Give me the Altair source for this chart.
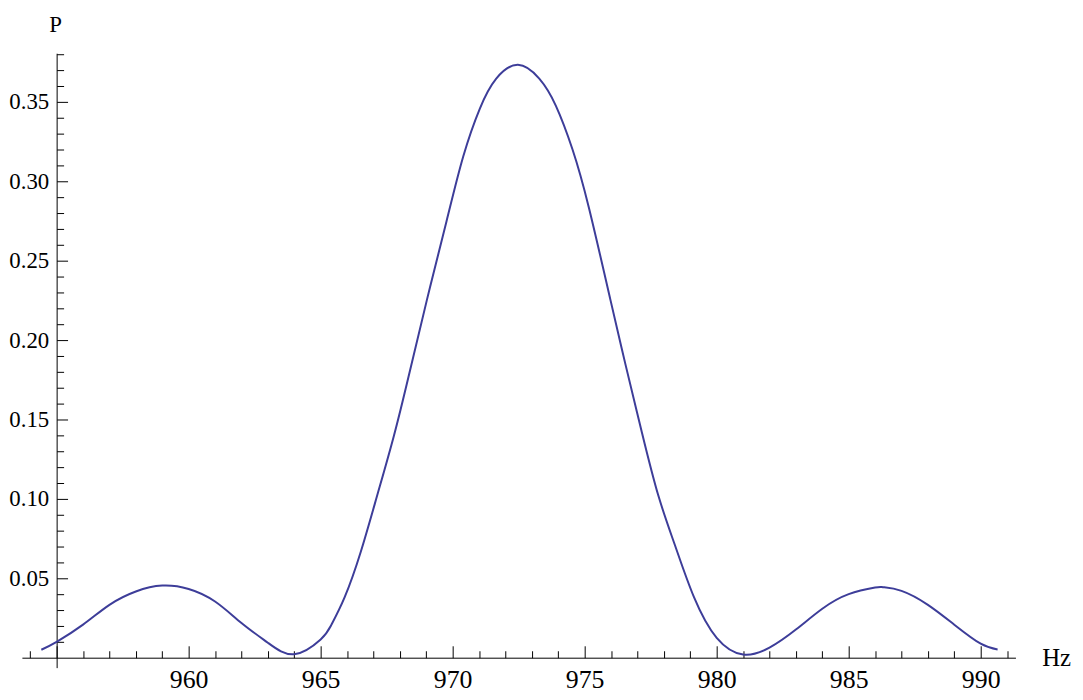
import altair as alt
import pandas as pd

# Frequency (Hz) and probability P
freq = [954.42, 955.0, 956.0, 957.0, 958.0, 959.0, 960.0, 961.0, 962.0, 963.0,
        964.0, 965.0, 965.4, 965.91, 966.52, 967.14, 967.77, 968.33, 969.02,
        969.77, 970.40, 971.03, 971.65, 972.47, 973.28, 973.91, 974.54, 975.16,
        975.98, 976.54, 977.17, 977.79, 978.42, 979.14, 980.0, 981.0, 982.0, 983.0,
        984.0, 985.0, 986.0, 986.3, 987.0, 988.0, 989.0, 990.0, 990.64]
prob = [0.0050, 0.0100, 0.0208, 0.0333, 0.0417, 0.0454, 0.0433, 0.0354, 0.0219, 0.0094,
        0.0022, 0.0115, 0.0205, 0.0381, 0.0667, 0.1021, 0.1395, 0.1771, 0.2250,
        0.2750, 0.3156, 0.3458, 0.3646, 0.3733, 0.3646, 0.3475, 0.3200, 0.2833,
        0.2250, 0.1850, 0.1417, 0.1021, 0.0708, 0.0381, 0.0125, 0.0020, 0.0063, 0.0177,
        0.0308, 0.0400, 0.0442, 0.0444, 0.0421, 0.0333, 0.0208, 0.0088, 0.0052]

x_labels = [960, 965, 970, 975, 980, 985, 990]
x_ticks = list(range(954, 992))
y_labels = [0.05, 0.10, 0.15, 0.20, 0.25, 0.30, 0.35]
y_ticks = [round(0.01 * i, 2) for i in range(1, 39)]

df = pd.DataFrame({"f": freq, "P": prob})

W, H = 1001, 619
x_dom = [953.684, 991.316]
y_dom = [-0.00625, 0.3806]
FONT = "Liberation Serif"
LINE = "#3d3d99"

xs = alt.Scale(domain=x_dom, nice=False, zero=False)
ys = alt.Scale(domain=y_dom, nice=False, zero=False)

# layer with the labels (bottom / left), no ticks or domain
lab = alt.Chart(df).mark_line(color=LINE, strokeWidth=2, interpolate="natural").encode(
    x=alt.X("f:Q", scale=xs, axis=alt.Axis(
        orient="bottom", offset=-10, values=x_labels, ticks=False, tickSize=0,
        domain=False, grid=False, labelFont=FONT, labelFontSize=26, labelColor="black",
        labelPadding=9, labelFlush=False, format="d",
        title="Hz", titleFont=FONT, titleFontSize=25, titleFontWeight="normal",
        titleColor="black", titleX=1042, titleY=8, titleAlign="center",
        titleBaseline="alphabetic")),
    y=alt.Y("P:Q", scale=ys, axis=alt.Axis(
        orient="left", offset=-35, values=y_labels, ticks=False, tickSize=0,
        domain=False, grid=False, labelFont=FONT, labelFontSize=23, labelColor="black",
        labelPadding=8, labelFlush=False, format=".2f",
        title="P", titleFont=FONT, titleFontSize=23, titleFontWeight="normal",
        titleColor="black", titleAngle=0, titleX=-1.5, titleY=-22, titleAlign="center",
        titleBaseline="alphabetic")),
)

# layer with the inward-pointing ticks and the axis lines (crossing at 955, 0)
tk = alt.Chart(df).mark_line(strokeOpacity=0).encode(
    x=alt.X("f:Q", scale=xs, axis=alt.Axis(
        orient="top", offset=-609, values=x_ticks, labels=False, grid=False,
        domain=True, domainColor="black", domainWidth=1,
        tickColor="black", tickWidth=1,
        tickSize={"condition": {"test": "datum.value % 5 === 0", "value": 12}, "value": 7},
        title="")),
    y=alt.Y("P:Q", scale=ys, axis=alt.Axis(
        orient="right", offset=-966, values=y_ticks, labels=False, grid=False,
        domain=True, domainColor="black", domainWidth=1,
        tickColor="black", tickWidth=1,
        tickSize={"condition": {"test": "round(datum.value * 100) % 5 === 0", "value": 11}, "value": 7},
        title="")),
)

chart = alt.layer(tk, lab).resolve_axis(x="independent", y="independent").properties(
    width=W, height=H,
    autosize=alt.AutoSizeParams(type="none"),
    padding={"left": 14, "top": 43, "right": 60, "bottom": 25},
    background="white",
).configure_view(strokeWidth=0)

chart.save("out.html", embed_options={"renderer": "svg", "actions": False})
